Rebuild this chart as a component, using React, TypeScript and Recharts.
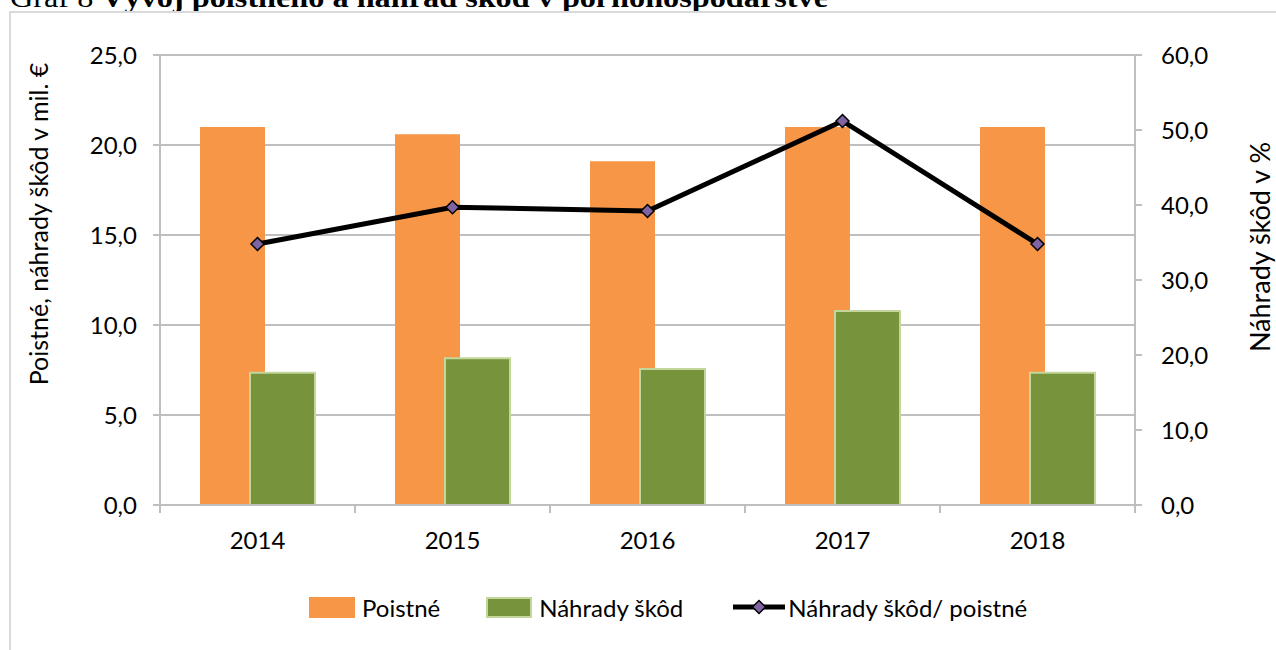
import { ComposedChart, Bar, Line, XAxis, YAxis, CartesianGrid } from 'recharts';

const years = ['2014', '2015', '2016', '2017', '2018'];
const poistne = [21.0, 20.6, 19.1, 21.0, 21.0];
const nahrady = [7.35, 8.15, 7.55, 10.78, 7.35];
const pomer = [34.8, 39.7, 39.2, 51.2, 34.8];
const leftTicks = [0, 5, 10, 15, 20, 25];
const rightTicks = [0, 10, 20, 30, 40, 50, 60];

const data = years.map((y, i) => ({
  year: y,
  poistne: poistne[i],
  nahrady: nahrady[i],
  pomer: pomer[i],
}));

const FONT = 'Lato, "Noto Sans", sans-serif';
const GRID = '#bfbfbf';
const ORANGE = '#F79646';
const GREEN = '#77933C';
const GREEN_EDGE = '#C3D69B';
const PURPLE = '#8064A2';

const fmt = (v: number) => v.toFixed(1).replace('.', ',');

function Diamond(props: any) {
  const { cx, cy } = props;
  if (cx == null || cy == null) return null;
  const r = 6.5;
  return (
    <polygon
      points={`${cx},${cy - r} ${cx + r},${cy} ${cx},${cy + r} ${cx - r},${cy}`}
      fill={PURPLE}
      stroke="#000"
      strokeWidth={1.5}
    />
  );
}

function YearTick(props: any) {
  const { x, y, payload } = props;
  const off = payload?.offset ?? 0;
  return (
    <g>
      <line x1={x - off} y1={y} x2={x - off} y2={y + 8} stroke={GRID} strokeWidth={2} />
      <line x1={x + off} y1={y} x2={x + off} y2={y + 8} stroke={GRID} strokeWidth={2} />
      <text x={x} y={y + 35} dy="0.355em" textAnchor="middle" fontSize={24} fill="#000" fontFamily={FONT}>
        {payload.value}
      </text>
    </g>
  );
}

function LegendSwatch({ color, edge }: { color: string; edge?: string }) {
  return (
    <span
      style={{
        display: 'inline-block',
        width: 46,
        height: 21,
        background: color,
        boxSizing: 'border-box',
        border: edge ? `2px solid ${edge}` : 'none',
        marginRight: 7,
      }}
    />
  );
}

export default function App() {
  return (
    <div style={{ position: 'absolute', left: 0, top: 0, width: 1276, height: 650, background: '#fff', fontFamily: FONT }}>
      <svg width={1276} height={20} style={{ position: 'absolute', left: 0, top: 0 }}>
        <text x={10} y={7} fontFamily='"Liberation Serif", "Times New Roman", serif' fontSize={28} fill="#000" textLength={818} lengthAdjust="spacingAndGlyphs">
          <tspan>Graf 8 </tspan>
          <tspan fontWeight="bold">Vývoj poistného a náhrad škôd v poľnohospodárstve</tspan>
        </text>
      </svg>
      <div
        style={{
          position: 'absolute',
          left: 9,
          top: 11,
          width: 1276,
          height: 650,
          borderLeft: '2px solid #d9d9d9',
          borderTop: '2px solid #d9d9d9',
        }}
      />
      <div style={{ position: 'absolute', left: 0, top: 0 }}>
        <ComposedChart
          width={1276}
          height={650}
          data={data}
          margin={{ top: 55, right: 41, bottom: 105, left: 60 }}
          barGap={-15}
        >
          <CartesianGrid yAxisId="left" vertical={false} stroke={GRID} strokeWidth={2} />
          <XAxis
            dataKey="year"
            height={40}
            axisLine={{ stroke: GRID, strokeWidth: 2 }}
            tickLine={false}
            tickSize={0}
            tickMargin={0}
            tick={<YearTick />}
            interval={0}
          />
          <YAxis
            yAxisId="left"
            width={100}
            domain={[0, 25]}
            ticks={leftTicks}
            tickFormatter={fmt}
            axisLine={{ stroke: GRID, strokeWidth: 2 }}
            tickLine={{ stroke: GRID, strokeWidth: 2 }}
            tickSize={7}
            tickMargin={16}
            tick={{ fontSize: 24, fill: '#000', fontFamily: FONT }}
            label={{
              content: () => (
                <text transform="translate(38,224) rotate(-90)" textAnchor="middle" dominantBaseline="central" fontSize={25} fill="#000" fontFamily={FONT}>
                  Poistné,  náhrady škôd v mil. €
                </text>
              ),
            }}
          />
          <YAxis
            yAxisId="right"
            orientation="right"
            width={100}
            domain={[0, 60]}
            ticks={rightTicks}
            tickFormatter={fmt}
            axisLine={{ stroke: GRID, strokeWidth: 2 }}
            tickLine={{ stroke: GRID, strokeWidth: 2 }}
            tickSize={7}
            tickMargin={19}
            tick={{ fontSize: 24, fill: '#000', fontFamily: FONT }}
            label={{
              content: () => (
                <text transform="translate(1259,247) rotate(-90)" textAnchor="middle" dominantBaseline="central" fontSize={27} fill="#000" fontFamily={FONT}>
                  Náhrady škôd v %
                </text>
              ),
            }}
          />
          <Bar yAxisId="left" dataKey="poistne" name="Poistné" fill={ORANGE} barSize={65} isAnimationActive={false} />
          <Bar
            yAxisId="left"
            dataKey="nahrady"
            name="Náhrady škôd"
            fill={GREEN}
            stroke={GREEN_EDGE}
            strokeWidth={2}
            barSize={65}
            isAnimationActive={false}
          />
          <Line
            yAxisId="right"
            dataKey="pomer"
            name="Náhrady škôd/ poistné"
            stroke="#000"
            strokeWidth={5}
            dot={<Diamond />}
            activeDot={false}
            isAnimationActive={false}
          />
        </ComposedChart>
      </div>
      <div
        style={{
          position: 'absolute',
          left: 309,
          top: 592,
          height: 30,
          display: 'flex',
          alignItems: 'center',
          fontSize: 24,
          color: '#000',
          whiteSpace: 'nowrap',
        }}
      >
        <span style={{ display: 'flex', alignItems: 'center', marginRight: 46 }}>
          <LegendSwatch color={ORANGE} />
          Poistné
        </span>
        <span style={{ display: 'flex', alignItems: 'center', marginRight: 50 }}>
          <LegendSwatch color={GREEN} edge={GREEN_EDGE} />
          Náhrady škôd
        </span>
        <span style={{ display: 'flex', alignItems: 'center' }}>
          <svg width={52} height={20} style={{ marginRight: 3 }}>
            <line x1={0} y1={10} x2={52} y2={10} stroke="#000" strokeWidth={5} />
            <polygon points="26,3.5 32.5,10 26,16.5 19.5,10" fill={PURPLE} stroke="#000" strokeWidth={1.5} />
          </svg>
          Náhrady škôd/ poistné
        </span>
      </div>
    </div>
  );
}
